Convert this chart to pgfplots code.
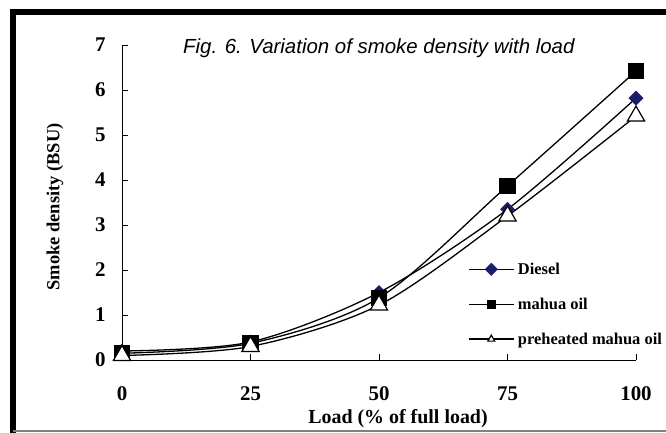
\documentclass[border=0pt]{standalone}
\usepackage{pgfplots}
\pgfplotsset{compat=1.18}
\usepackage{fontspec}
\setmainfont{Liberation Serif}
\newfontfamily\arialfont{Liberation Sans}

\definecolor{navy}{HTML}{1C1C6E}

\begin{document}
\begin{tikzpicture}[x=1bp,y=1bp]
\useasboundingbox (0,0) rectangle (666,433);
\fill[white] (0,0) rectangle (666,433);
% frame of the original figure
\draw[line width=6bp] (12.5,0) -- (12.5,421) -- (666,421);
\draw[gray, line width=1.5bp] (12.5,2) -- (666,2);

\begin{axis}[
  at={(122bp,73bp)}, anchor=south west,
  scale only axis, width=514bp, height=315bp,
  xmin=0, xmax=100, ymin=0, ymax=7,
  axis x line=bottom, axis y line=left,
  axis line style={-, line width=0.8bp},
  xtick={0,25,50,75,100}, ytick={0,...,7},
  tick align=inside, major tick length=6bp,
  tick style={line width=0.8bp, black},
  /pgf/number format/assume math mode=true,
  ticklabel style={font=\bfseries\fontsize{21}{21}\selectfont},
  xticklabel style={yshift=-23bp},
  yticklabel style={xshift=-13bp},
  clip=false,
  legend cell align=left,
  legend style={at={(0.673,0.32)}, anchor=north west, draw=none, fill=none,
    font=\bfseries\fontsize{16.5}{16.5}\selectfont, row sep=15bp,
    inner sep=0pt, nodes={inner sep=3.5bp}},
  legend image code/.code={\draw[mark repeat=2,mark phase=2,mark size=4bp]
    plot coordinates {(0bp,0bp)(22.5bp,0bp)(45bp,0bp)};},
  every axis plot/.append style={line width=1.3bp, black, smooth},
]
\addplot[mark=square*, mark size=4.6bp, mark options={rotate=45, fill=navy, draw=navy}]
  coordinates {(0,0.2) (25,0.4) (50,1.5) (75,3.35) (100,5.82)};
\addlegendentry{Diesel}
\addplot[mark=square*, mark size=7.5bp, mark options={fill=black}]
  coordinates {(0,0.15) (25,0.37) (50,1.38) (75,3.87) (100,6.42)};
\addlegendentry{mahua oil}
\addplot[mark=triangle*, mark size=10bp, mark options={fill=white, draw=black, line width=1.2bp}]
  coordinates {(0,0.1) (25,0.3) (50,1.22) (75,3.2) (100,5.42)};
\addlegendentry{preheated mahua oil}
\end{axis}

% axis labels and title
\node[font=\bfseries\fontsize{20}{20}\selectfont, inner sep=0pt]
  at (398,14) {Load (\% of full load)};
\node[rotate=90, font=\bfseries\fontsize{18.5}{18.5}\selectfont, inner sep=0pt]
  at (55,226) {Smoke density (BSU)};
\node[anchor=west, font=\arialfont\itshape\fontsize{20.5}{20.5}\selectfont, inner sep=0pt]
  at (183,385) {Fig. 6. Variation of smoke density with load};
\end{tikzpicture}
\end{document}
